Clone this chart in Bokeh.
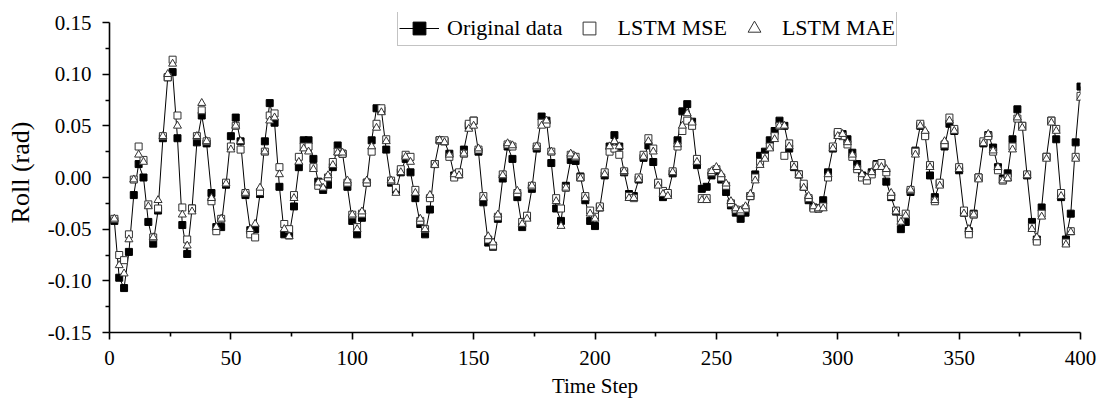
from bokeh.plotting import figure
from bokeh.models import Range1d, FixedTicker, NumeralTickFormatter, Legend, LegendItem
from bokeh.embed import file_html
from bokeh.resources import INLINE

time_steps = list(range(2, 401, 2))

original_data = [
    -0.042, -0.097, -0.107, -0.072, -0.017, 0.013, 0.000, -0.043, -0.064, -0.032,
    0.038, 0.097, 0.102, 0.038, -0.046, -0.074, -0.030, 0.034, 0.060, 0.033,
    -0.015, -0.048, -0.048, -0.007, 0.040, 0.058, 0.035, -0.017, -0.051, -0.050,
    -0.016, 0.035, 0.072, 0.053, -0.009, -0.055, -0.056, -0.028, 0.010, 0.036,
    0.036, 0.018, -0.004, -0.012, -0.007, 0.010, 0.031, 0.023, -0.009, -0.042,
    -0.055, -0.039, -0.005, 0.036, 0.067, 0.065, 0.027, -0.005, -0.012, 0.005,
    0.018, 0.005, -0.020, -0.045, -0.055, -0.031, 0.013, 0.036, 0.035, 0.023,
    0.002, 0.003, 0.027, 0.050, 0.055, 0.025, -0.024, -0.063, -0.067, -0.040,
    -0.001, 0.030, 0.018, -0.019, -0.048, -0.038, -0.011, 0.028, 0.059, 0.055,
    0.014, -0.030, -0.042, -0.008, 0.017, 0.016, 0.001, -0.022, -0.042, -0.047,
    -0.029, 0.002, 0.030, 0.041, 0.030, 0.005, -0.016, -0.018, -0.002, 0.019,
    0.031, 0.015, -0.006, -0.019, -0.016, 0.004, 0.036, 0.064, 0.071, 0.054,
    0.012, -0.011, -0.009, 0.002, 0.006, -0.002, -0.014, -0.027, -0.034, -0.040,
    -0.034, -0.018, 0.003, 0.021, 0.025, 0.036, 0.045, 0.055, 0.050, 0.028,
    0.010, 0.003, -0.009, -0.022, -0.029, -0.030, -0.022, 0.005, 0.028, 0.042,
    0.042, 0.037, 0.024, 0.013, 0.002, 0.000, 0.005, 0.013, 0.013, -0.004,
    -0.019, -0.033, -0.050, -0.043, -0.014, 0.026, 0.050, 0.041, 0.002, -0.019,
    -0.006, 0.030, 0.052, 0.045, 0.007, -0.034, -0.052, -0.035, 0.000, 0.033,
    0.041, 0.029, 0.010, -0.001, 0.004, 0.037, 0.066, 0.050, 0.002, -0.043,
    -0.060, -0.029, 0.020, 0.055, 0.037, -0.019, -0.060, -0.035, 0.034, 0.088,
]

lstm_mse = [
    -0.040, -0.075, -0.080, -0.055, -0.002, 0.030, 0.017, -0.026, -0.058, -0.030,
    0.040, 0.097, 0.114, 0.060, -0.029, -0.060, -0.030, 0.040, 0.065, 0.035,
    -0.023, -0.052, -0.040, -0.005, 0.030, 0.050, 0.027, -0.015, -0.055, -0.058,
    -0.014, 0.025, 0.060, 0.062, 0.010, -0.045, -0.050, -0.017, 0.020, 0.030,
    0.030, 0.010, -0.008, -0.005, 0.000, 0.015, 0.025, 0.023, -0.005, -0.036,
    -0.048, -0.035, -0.005, 0.025, 0.052, 0.067, 0.037, -0.003, -0.010, 0.008,
    0.022, 0.020, -0.012, -0.042, -0.050, -0.020, 0.013, 0.036, 0.036, 0.020,
    0.000, 0.005, 0.023, 0.052, 0.055, 0.027, -0.018, -0.060, -0.066, -0.038,
    0.003, 0.032, 0.030, -0.015, -0.043, -0.037, -0.008, 0.030, 0.053, 0.052,
    0.025, -0.020, -0.030, -0.010, 0.022, 0.020, 0.000, -0.018, -0.032, -0.038,
    -0.028, 0.005, 0.025, 0.028, 0.022, 0.006, -0.018, -0.020, 0.000, 0.022,
    0.038, 0.028, -0.005, -0.013, -0.015, 0.006, 0.030, 0.045, 0.055, 0.050,
    0.018, -0.020, -0.020, 0.005, 0.008, 0.000, -0.008, -0.025, -0.031, -0.033,
    -0.030, -0.018, 0.000, 0.015, 0.020, 0.030, 0.040, 0.050, 0.021, 0.033,
    0.012, 0.003, -0.006, -0.020, -0.030, -0.030, -0.028, 0.000, 0.030, 0.044,
    0.040, 0.032, 0.020, 0.008, 0.000, -0.003, 0.003, 0.012, 0.014, 0.005,
    -0.018, -0.032, -0.040, -0.035, -0.012, 0.025, 0.052, 0.040, 0.012, -0.023,
    -0.005, 0.032, 0.058, 0.047, 0.010, -0.032, -0.055, -0.036, 0.000, 0.035,
    0.040, 0.025, 0.007, -0.003, 0.000, 0.030, 0.057, 0.050, 0.003, -0.048,
    -0.062, -0.035, 0.020, 0.055, 0.047, -0.015, -0.063, -0.052, 0.020, 0.079,
]

lstm_mae = [
    -0.040, -0.085, -0.093, -0.060, -0.002, 0.022, 0.015, -0.028, -0.058, -0.022,
    0.040, 0.100, 0.110, 0.050, -0.036, -0.066, -0.033, 0.040, 0.072, 0.035,
    -0.020, -0.048, -0.040, -0.006, 0.027, 0.050, 0.035, -0.015, -0.050, -0.045,
    -0.010, 0.025, 0.055, 0.058, 0.003, -0.050, -0.057, -0.020, 0.015, 0.028,
    0.025, 0.008, -0.005, -0.010, 0.002, 0.012, 0.024, 0.024, -0.003, -0.036,
    -0.050, -0.033, -0.003, 0.030, 0.048, 0.063, 0.035, -0.003, -0.015, 0.005,
    0.020, 0.015, -0.015, -0.040, -0.050, -0.017, 0.012, 0.036, 0.034, 0.022,
    0.003, 0.002, 0.023, 0.047, 0.050, 0.028, -0.020, -0.057, -0.063, -0.036,
    0.002, 0.033, 0.031, -0.013, -0.045, -0.040, -0.008, 0.030, 0.050, 0.055,
    0.025, -0.023, -0.047, -0.010, 0.023, 0.020, -0.001, -0.020, -0.035, -0.040,
    -0.030, 0.003, 0.030, 0.035, 0.030, 0.006, -0.020, -0.020, -0.002, 0.020,
    0.035, 0.025, -0.008, -0.016, -0.018, 0.005, 0.032, 0.050, 0.062, 0.053,
    0.015, -0.022, -0.022, 0.006, 0.010, 0.003, -0.006, -0.023, -0.030, -0.032,
    -0.028, -0.016, -0.003, 0.012, 0.018, 0.028, 0.037, 0.050, 0.050, 0.030,
    0.010, 0.002, -0.010, -0.018, -0.028, -0.030, -0.030, 0.003, 0.028, 0.040,
    0.042, 0.034, 0.022, 0.010, 0.003, 0.000, 0.005, 0.010, 0.010, 0.008,
    -0.015, -0.033, -0.043, -0.037, -0.012, 0.022, 0.050, 0.045, 0.010, -0.022,
    -0.008, 0.035, 0.055, 0.045, 0.008, -0.035, -0.050, -0.036, -0.002, 0.033,
    0.042, 0.026, 0.010, -0.003, -0.001, 0.027, 0.058, 0.048, 0.002, -0.050,
    -0.058, -0.038, 0.018, 0.053, 0.045, -0.018, -0.065, -0.053, 0.018, 0.077,
]

series_labels = ["Original data", "LSTM MSE", "LSTM MAE"]
x_label = "Time Step"
y_label = "Roll (rad)"
x_ticks = [0, 50, 100, 150, 200, 250, 300, 350, 400]
x_minor = [25, 75, 125, 175, 225, 275, 325, 375]
y_ticks = [-0.15, -0.10, -0.05, 0.00, 0.05, 0.10, 0.15]
y_minor = [-0.125, -0.075, -0.025, 0.025, 0.075, 0.125]

FONT = "Liberation Serif"

# frame: x 109..1080, y 12..332 ; value 0.15 sits at y=22
p = figure(width=1101, height=400, output_backend="svg", toolbar_location=None,
           x_range=Range1d(0, 400), y_range=Range1d(-0.15, 0.15 + 10 * 0.30 / 310),
           min_border_left=109, min_border_right=21, min_border_top=12, min_border_bottom=68)
p.outline_line_color = None
p.grid.grid_line_color = None
p.background_fill_color = "white"
p.border_fill_color = "white"

p.xaxis.ticker = FixedTicker(ticks=x_ticks, minor_ticks=x_minor)
p.yaxis.ticker = FixedTicker(ticks=y_ticks, minor_ticks=y_minor)
p.yaxis.formatter = NumeralTickFormatter(format="0.00")
p.yaxis.bounds = (-0.15, 0.15)
for ax in (p.xaxis, p.yaxis):
    ax.axis_line_width = 1.6
    ax.axis_line_color = "black"
    ax.major_tick_line_width = 1.6
    ax.minor_tick_line_width = 1.6
    ax.major_tick_line_color = "black"
    ax.minor_tick_line_color = "black"
    ax.major_tick_out = 7
    ax.major_tick_in = 0
    ax.minor_tick_out = 4
    ax.minor_tick_in = 0
    ax.major_label_text_font = FONT
    ax.major_label_text_font_size = "21px"
    ax.major_label_text_color = "black"
    ax.axis_label_text_font = FONT
    ax.axis_label_text_font_style = "normal"
    ax.axis_label_text_color = "black"
p.xaxis.axis_label = x_label
p.yaxis.axis_label = y_label
p.xaxis.axis_label_text_font_size = "21px"
p.yaxis.axis_label_text_font_size = "26px"
p.xaxis.major_label_standoff = 11
p.xaxis.axis_label_standoff = 6
p.yaxis.major_label_standoff = 11
p.yaxis.axis_label_standoff = 10

r_line = p.line(time_steps, original_data, line_color="black", line_width=1)
r_orig = p.scatter(time_steps, original_data, marker="square", size=7,
                   fill_color="black", line_color="black", line_width=1)
r_mse = p.scatter(time_steps, lstm_mse, marker="square", size=7,
                  fill_color="white", line_color="#333333", line_width=1)
r_mae = p.scatter(time_steps, lstm_mae, marker="triangle", size=8,
                  fill_color="white", line_color="#333333", line_width=1)

legend = Legend(items=[
    LegendItem(label=series_labels[0], renderers=[r_line, r_orig]),
    LegendItem(label=series_labels[1], renderers=[r_mse]),
    LegendItem(label=series_labels[2], renderers=[r_mae]),
], orientation="horizontal", location=(288, 286))
legend.label_text_font = FONT
legend.label_text_font_size = "22px"
legend.label_text_color = "black"
legend.label_height = 26
legend.glyph_width = 40
legend.glyph_height = 32
legend.label_standoff = 8
legend.spacing = 7
legend.padding = 1
legend.margin = 0
legend.border_line_color = "#888888"
legend.border_line_width = 1
legend.background_fill_color = "white"
legend.background_fill_alpha = 1
p.add_layout(legend)

open("out.html", "w").write(file_html(p, INLINE))
